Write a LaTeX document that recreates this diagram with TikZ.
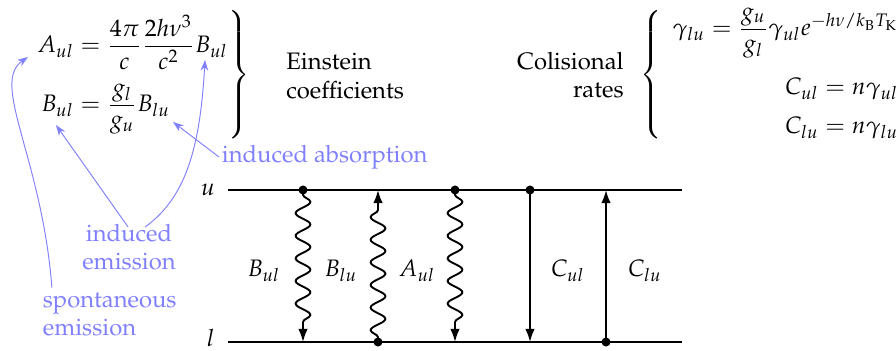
\documentclass[tikz,border=0pt]{standalone}
\usepackage[T1]{fontenc}
\usepackage{mathpazo}
\usepackage{amsmath}
\usetikzlibrary{positioning, arrows.meta, decorations.pathmorphing}
\tikzset{
    level/.style={line width=1.15pt},
    photon/.style={thick, decorate, decoration={snake, amplitude=3.1pt, segment length=9.5pt, pre length=2pt, post length=7pt}},
    coll/.style={thick},
    tip/.style={-{Latex[length=5.5pt, width=4pt]}},
    dot/.style={circle, fill, inner sep=0pt, minimum size=3.8pt},
    note/.style={text=blue!50, inner sep=1pt},
    notearrow/.style={blue!50, thin, -{Stealth[length=4.5pt, width=3.2pt]}}
}
\newcommand{\bracestrut}{\rule[-24pt]{0pt}{53pt}}

\begin{document}
\begin{tikzpicture}[x=0.42pt, y=-0.42pt]
    \useasboundingbox (0,0) rectangle (896,350);

    % equations
    \node[anchor=east, inner sep=0pt] (einst) at (250,75)
        {\delimiterfactor=1000 \delimitershortfall=0pt
        $\displaystyle\left.\begin{aligned}
            A_{ul} &= \frac{4\pi}{c}\frac{2h\nu^3}{c^2}B_{ul}\\[2pt]
            B_{ul} &= \frac{g_l}{g_u}B_{lu}
        \end{aligned}\bracestrut\right\}$};
    \node[anchor=west, align=left] (einsttext) at (278,76) {Einstein\\coefficients};

    \node[anchor=east, align=right] (colltext) at (632,75) {Colisional\\rates};
    \node[anchor=west, inner sep=0pt] (collrates) at (640,75)
        {\delimiterfactor=1000 \delimitershortfall=0pt
        $\displaystyle\left\{\bracestrut\right.\begin{array}{@{\hspace{1.5pt}}r@{}}
            \gamma_{lu} = \dfrac{g_u}{g_l}\gamma_{ul}e^{-h\nu/k_\mathrm{B}T_\mathrm{K}}\\[13pt]
            C_{ul} = n\gamma_{ul}\\[4.5pt]
            C_{lu} = n\gamma_{lu}
        \end{array}$};

    % levels
    \coordinate (uL) at (228,190);
    \coordinate (uR) at (682,190);
    \coordinate (lL) at (228,342);
    \coordinate (lR) at (682,342);
    \draw[level] (uL) -- (uR);
    \draw[level] (lL) -- (lR);
    \node[left=2pt of uL] (ulab) {$u$};
    \node[left=2pt of lL, yshift=1.5pt] (llab) {$l$};

    % transitions
    \foreach \x/\name in {303/a, 378/b, 455/c, 530/d, 606/e} {
        \coordinate (u\name) at (\x,190);
        \coordinate (l\name) at (\x,342);
    }
    \draw[photon, tip] (ua) -- (la);
    \draw[photon, tip] (lb) -- (ub);
    \draw[photon, tip] (uc) -- (lc);
    \draw[coll, tip] (ud) -- (ld);
    \draw[coll, tip] (le) -- (ue);
    \node[dot] at (ua) {};
    \node[dot] at (lb) {};
    \node[dot] at (uc) {};
    \node[dot] at (ud) {};
    \node[dot] at (le) {};

    \node (Bul) at (264,271) {$B_{ul}$};
    \node (Blu) at (341,271) {$B_{lu}$};
    \node (Aul) at (417,271) {$A_{ul}$};
    \node (Cul) at (568,271) {$C_{ul}$};
    \node (Clu) at (645,271) {$C_{lu}$};

    % annotations
    \coordinate (tA) at (28,57);
    \coordinate (tB1) at (205,60);
    \coordinate (tB2) at (56,125);
    \coordinate (tB3) at (173,122);
    \node[note, anchor=west] (indabs) at (219,157) {induced absorption};
    \node[note, align=center] (indem) at (129,247) {induced\\emission};
    \node[note, align=left, anchor=north west] (spem) at (40,290) {spontaneous\\emission};

    \draw[notearrow] (indabs.west) -- (tB3);
    \draw[notearrow] ([xshift=-0.4pt, yshift=-2.5pt]indem.north) -- (tB2);
    \draw[notearrow] ([xshift=6.8pt, yshift=-2.5pt]indem.north) .. controls (185,198) and (200,150) .. (tB1);
    \draw[notearrow] ([xshift=5pt, yshift=1pt]spem.north west) .. controls (42,158) and (-10,83) .. (tA);
\end{tikzpicture}
\end{document}
